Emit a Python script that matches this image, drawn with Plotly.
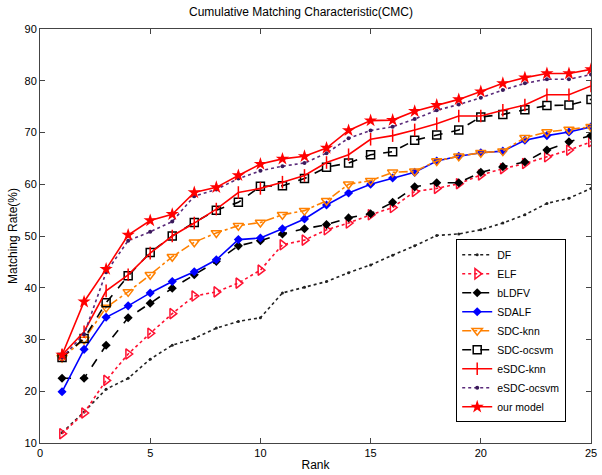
import plotly.graph_objects as go

rank = list(range(1, 26))

DF = [12.0, 16.0, 20.4, 22.5, 26.2, 28.9, 30.2, 32.2, 33.5, 34.2, 39.0, 40.1, 41.2, 42.9, 44.4,
      46.3, 48.1, 50.1, 50.4, 51.2, 52.5, 54.1, 56.3, 57.3, 59.2]
ELF = [11.8, 15.8, 22.1, 27.2, 31.2, 35.0, 38.4, 39.2, 40.9, 43.4, 48.3, 49.2, 51.2, 52.5, 54.1,
       55.5, 58.6, 59.2, 60.1, 61.8, 63.0, 64.0, 65.3, 66.6, 68.2]
bLDFV = [22.5, 22.5, 28.9, 34.2, 37.0, 39.9, 42.5, 45.1, 48.1, 49.1, 50.4, 51.4, 52.2, 53.5, 54.3,
         56.5, 59.5, 60.3, 60.3, 62.3, 63.4, 64.3, 66.6, 68.2, 69.4]
SDALF = [19.9, 28.1, 34.3, 36.5, 39.0, 41.2, 43.1, 45.4, 49.3, 49.6, 51.4, 53.3, 56.0, 58.3, 60.0,
         61.2, 62.3, 64.5, 65.4, 66.1, 66.4, 68.5, 69.4, 70.1, 71.1]
SDC_knn = [26.5, 30.0, 36.2, 39.2, 42.5, 46.0, 48.8, 50.6, 52.0, 52.6, 54.1, 54.9, 56.8, 60.0, 60.7,
           62.3, 62.5, 64.5, 65.4, 66.1, 66.4, 69.0, 70.1, 70.6, 71.1]
SDC_ocsvm = [26.5, 30.2, 37.1, 42.3, 46.8, 50.0, 52.6, 55.0, 56.5, 59.6, 59.7, 61.1, 63.3, 64.1, 65.7,
             66.3, 68.5, 69.5, 70.5, 73.0, 73.5, 74.4, 75.2, 75.3, 76.4]
eSDC_knn = [27.0, 31.5, 39.4, 42.5, 46.7, 50.0, 52.5, 55.2, 58.4, 59.2, 60.4, 61.7, 64.2, 65.7, 68.7,
            69.4, 70.5, 71.7, 73.2, 73.2, 74.3, 75.3, 77.3, 77.3, 79.0]
eSDC_ocsvm = [26.5, 31.0, 43.0, 49.1, 50.8, 52.8, 57.7, 59.0, 61.1, 62.6, 63.5, 64.1, 66.0, 68.9, 70.4,
              71.1, 72.6, 74.3, 75.4, 76.7, 78.2, 79.5, 80.3, 80.3, 81.2]
our_model = [27.0, 37.3, 43.6, 50.2, 53.0, 54.2, 58.4, 59.4, 61.7, 63.9, 64.9, 65.4, 67.0, 70.4, 72.3,
             72.4, 74.1, 75.3, 76.4, 77.9, 79.5, 80.6, 81.4, 81.4, 82.2]

series = [
    ("DF", DF, "#222222", "dot", dict(symbol="circle", size=3, color="#222222")),
    ("ELF", ELF, "#FF1030", "dot", dict(symbol="triangle-right-open", size=9, color="#FF1030", line=dict(width=1.5))),
    ("bLDFV", bLDFV, "#000000", "dash", dict(symbol="diamond", size=7, color="#000000")),
    ("SDALF", SDALF, "#0000FF", "solid", dict(symbol="diamond", size=7, color="#0000FF")),
    ("SDC-knn", SDC_knn, "#FF8000", "dashdot", dict(symbol="triangle-down-open", size=9, color="#FF8000", line=dict(width=1.5))),
    ("SDC-ocsvm", SDC_ocsvm, "#000000", "dash", dict(symbol="square-open", size=8, color="#000000", line=dict(width=1.5))),
    ("eSDC-knn", eSDC_knn, "#FF0000", "solid", dict(symbol="line-ns-open", size=9, color="#FF0000", line=dict(width=1.5, color="#FF0000"))),
    ("eSDC-ocsvm", eSDC_ocsvm, "#5A2A7A", "dot", dict(symbol="circle", size=4, color="#3A1A5A")),
    ("our model", our_model, "#FF0000", "solid", dict(symbol="star", size=10, color="#FF0000")),
]

fig = go.Figure()
for name, vals, col, dash, mk in series:
    fig.add_trace(go.Scatter(x=rank, y=vals, name=name, mode="lines+markers",
                             line=dict(color=col, dash=dash, width=1.6), marker=mk))

axis_common = dict(showgrid=False, zeroline=False, showline=True, linecolor="#444444", linewidth=1,
                   mirror="ticks", ticks="inside", ticklen=5, tickcolor="#444444",
                   ticklabeloverflow="allow",
                   tickfont=dict(family="Liberation Sans, Arial", size=11, color="#000000"))

fig.update_layout(
    width=602, height=475,
    margin=dict(l=40, r=5, t=29, b=31),
    paper_bgcolor="white", plot_bgcolor="white",
    title=dict(text="Cumulative Matching Characteristic(CMC)", x=0.5, xanchor="center", y=0.985, yanchor="top",
               font=dict(family="Liberation Sans, Arial", size=12, color="#000000")),
    xaxis=dict(range=[0, 25], dtick=5, tick0=0,
               title=dict(text="Rank", standoff=2, font=dict(family="Liberation Sans, Arial", size=12, color="#000000")),
               **axis_common),
    yaxis=dict(range=[10, 90], dtick=10, tick0=10,
               title=dict(text="Matching Rate(%)", standoff=4, font=dict(family="Liberation Sans, Arial", size=12, color="#000000")),
               **axis_common),
    legend=dict(x=0.955, xanchor="right", y=0.05, yanchor="bottom", bgcolor="white",
                bordercolor="#000000", borderwidth=1, tracegroupgap=0,
                font=dict(family="Liberation Sans, Arial", size=10.5, color="#000000"),
                itemwidth=30, entrywidth=58, entrywidthmode="pixels"),
    showlegend=True,
)

fig.write_html("out.html", config={"displayModeBar": False},
               post_script="document.body.style.margin='0';document.body.style.overflow='hidden';")
